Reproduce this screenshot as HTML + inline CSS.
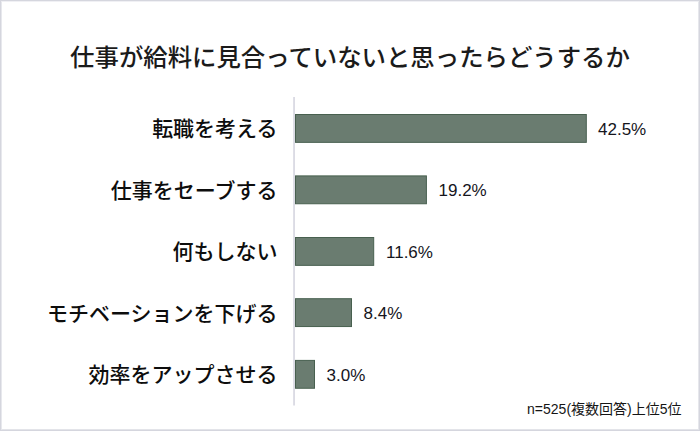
<!DOCTYPE html>
<html lang="ja"><head><meta charset="utf-8"><title>仕事が給料に見合っていないと思ったらどうするか</title>
<style>
html,body{margin:0;padding:0;background:#fff}
body{width:700px;height:431px;overflow:hidden;font-family:"Liberation Sans",sans-serif}
#chart{position:relative;width:700px;height:431px;background:#fff;overflow:hidden}
#chart svg{position:absolute;left:0;top:0;display:block}
.frame{position:absolute;left:0;top:0;width:700px;height:431px;box-sizing:border-box;border:1px solid #d5d6de;pointer-events:none}
.frame::after{content:"";position:absolute;left:0;top:0;right:0;bottom:0;border-style:solid;border-width:1px;border-color:#f0f0f4 #e6e7ec #e3e4e9 #e7e8ed}
.tx{position:absolute;color:transparent;white-space:nowrap;overflow:hidden;font-family:"Liberation Sans",sans-serif}
.text text{font-family:"Liberation Sans","Noto Sans CJK JP",sans-serif}
.t{fill:#1b1b1b;font-size:24.4px;font-weight:500}
.l{fill:#0d0d0d;font-size:21px;font-weight:500}
.v{fill:#15151c;font-size:17px}
.f{fill:#151515;font-size:14px}
.bars rect{fill:#6a7c70;stroke:#48604f;stroke-width:1}
</style></head>
<body>
<div id="chart">
<svg width="700" height="431" viewBox="0 0 700 431" role="img" aria-label="仕事が給料に見合っていないと思ったらどうするか">
<rect x="293.2" y="97" width="1.7" height="308.5" fill="#d8d8e2"/>
<g class="bars">
<rect x="295.5" y="114.5" width="290.8" height="27.85"/>
<rect x="295.5" y="175.9" width="130.9" height="27.85"/>
<rect x="295.5" y="237.5" width="78.2" height="27.85"/>
<rect x="295.5" y="298.7" width="56" height="27.85"/>
<rect x="295.5" y="360.4" width="19" height="27.85"/>
</g>
<g class="text">
<text class="t" x="350" y="65.5" text-anchor="middle">仕事が給料に見合っていないと思ったらどうするか</text>
<text class="l" x="277.5" y="136" text-anchor="end">転職を考える</text>
<text class="l" x="277.5" y="197.5" text-anchor="end">仕事をセーブする</text>
<text class="l" x="277.5" y="259" text-anchor="end">何もしない</text>
<text class="l" x="277.5" y="320.5" text-anchor="end">モチベーションを下げる</text>
<text class="l" x="277.5" y="382" text-anchor="end">効率をアップさせる</text>
<text class="v" x="598" y="134.5">42.5%</text>
<text class="v" x="438.5" y="196">19.2%</text>
<text class="v" x="386" y="257.5">11.6%</text>
<text class="v" x="363.5" y="319">8.4%</text>
<text class="v" x="326.5" y="380.6">3.0%</text>
<text class="f" x="681.5" y="414.3" text-anchor="end">n=525(複数回答)上位5位</text>
</g>
</svg>
<div class="tx" style="left:60px;top:44px;width:580px;font-size:24px;line-height:24px;text-align:center">仕事が給料に見合っていないと思ったらどうするか</div>
<div class="tx" style="left:20px;top:118px;width:258px;font-size:21px;line-height:21px;text-align:right">転職を考える</div>
<div class="tx" style="left:598px;top:120px;width:70px;font-size:17px;line-height:17px;text-align:left">42.5%</div>
<div class="tx" style="left:20px;top:180px;width:258px;font-size:21px;line-height:21px;text-align:right">仕事をセーブする</div>
<div class="tx" style="left:439px;top:182px;width:70px;font-size:17px;line-height:17px;text-align:left">19.2%</div>
<div class="tx" style="left:20px;top:241px;width:258px;font-size:21px;line-height:21px;text-align:right">何もしない</div>
<div class="tx" style="left:386px;top:243px;width:70px;font-size:17px;line-height:17px;text-align:left">11.6%</div>
<div class="tx" style="left:20px;top:302px;width:258px;font-size:21px;line-height:21px;text-align:right">モチベーションを下げる</div>
<div class="tx" style="left:364px;top:304px;width:70px;font-size:17px;line-height:17px;text-align:left">8.4%</div>
<div class="tx" style="left:20px;top:364px;width:258px;font-size:21px;line-height:21px;text-align:right">効率をアップさせる</div>
<div class="tx" style="left:327px;top:366px;width:70px;font-size:17px;line-height:17px;text-align:left">3.0%</div>
<div class="tx" style="left:480px;top:402px;width:201px;font-size:14px;line-height:14px;text-align:right">n=525(複数回答)上位5位</div>
<div class="frame"></div>
</div>
</body></html>
